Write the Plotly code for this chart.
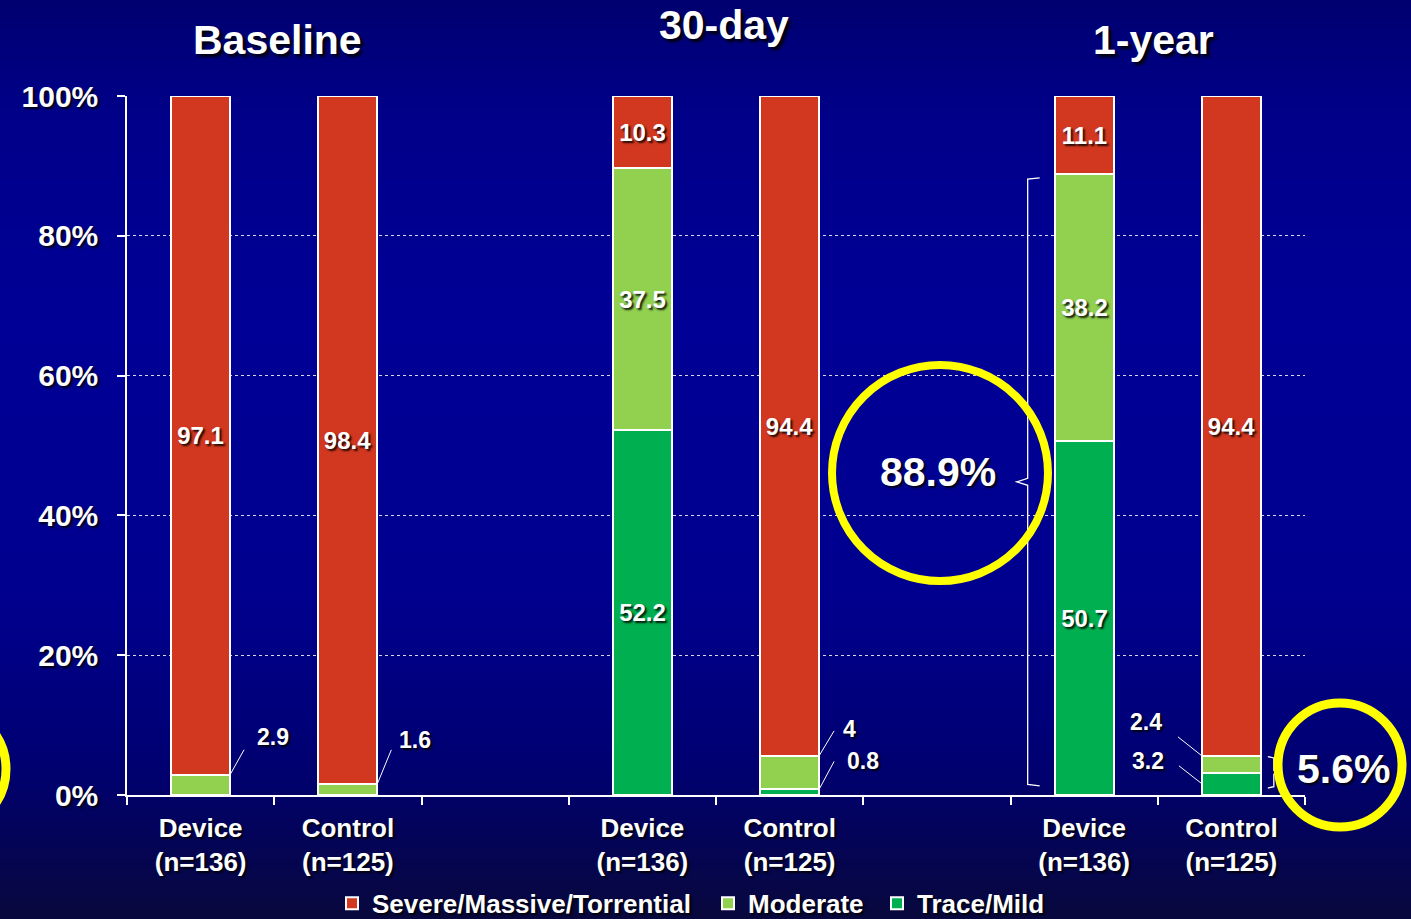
import plotly.graph_objects as go

# ---------------- data ----------------
bar_x = [1, 2, 4, 5, 7, 8]
bar_labels = ["Device<br>(n=136)", "Control<br>(n=125)",
              "Device<br>(n=136)", "Control<br>(n=125)",
              "Device<br>(n=136)", "Control<br>(n=125)"]
period_names = ["Baseline", "30-day", "1-year"]
series_names = ["Trace/Mild", "Moderate", "Severe/Massive/Torrential"]
trace_mild = [0.0, 0.0, 52.2, 0.8, 50.7, 3.2]
moderate = [2.9, 1.6, 37.5, 4.8, 38.2, 2.4]
severe = [97.1, 98.4, 10.3, 94.4, 11.1, 94.4]
trace_mild_lbl = ["", "", "52.2", "", "50.7", ""]
moderate_lbl = ["", "", "37.5", "", "38.2", ""]
severe_lbl = ["97.1", "98.4", "10.3", "94.4", "11.1", "94.4"]
# small segments labelled outside the bar: (bar index, series, label)
small_labels = [(0, "moderate", "2.9"), (1, "moderate", "1.6"),
                (3, "moderate", "4"), (3, "trace", "0.8"),
                (5, "moderate", "2.4"), (5, "trace", "3.2")]
y_ticks = [0, 20, 40, 60, 80, 100]
y_tick_text = ["0%", "20%", "40%", "60%", "80%", "100%"]

# ---------------- style ----------------
W, H = 1411, 919
ML, MR, MT, MB = 127, 106, 96, 124
PW, PH = W - ML - MR, H - MT - MB
BW = 0.4
RED, LGREEN, DGREEN = "#D2381F", "#92D050", "#00AF4F"
FONT = "Liberation Sans, Arial, sans-serif"
SHADOW = "2px 2px 2px rgba(0,0,0,0.85)"


def pfx(px):
    return (px - ML) / PW


def pfy(py):
    return (H - MB - py) / PH


def wfont(size):
    return dict(family=FONT, size=size, color="white", weight="bold", shadow=SHADOW)


fig = go.Figure()
legend_ids = ["legend3", "legend2", "legend"]
legend_left_px = {"legend": 332, "legend2": 708, "legend3": 877}
for name, vals, lbl, col, lg in [(series_names[0], trace_mild, trace_mild_lbl, DGREEN, legend_ids[0]),
                                 (series_names[1], moderate, moderate_lbl, LGREEN, legend_ids[1]),
                                 (series_names[2], severe, severe_lbl, RED, legend_ids[2])]:
    fig.add_trace(go.Bar(
        x=bar_x, y=vals, name=name, width=BW, text=lbl, legend=lg, showlegend=True,
        textposition="inside", insidetextanchor="middle", constraintext="none",
        textangle=0, textfont=wfont(24),
        marker=dict(color=col, line=dict(color="white", width=2)),
        hoverinfo="skip"))

shapes = []
# background gradient
stops = [(0, (0, 0, 112)), (120, (0, 0, 138)), (330, (0, 0, 150)), (600, (0, 0, 142)),
         (770, (0, 0, 112)), (919, (8, 8, 60))]
n = 92
for k in range(n):
    y0p = k * H / n
    y1p = (k + 1) * H / n
    ym = (y0p + y1p) / 2
    for j in range(len(stops) - 1):
        if stops[j][0] <= ym <= stops[j + 1][0]:
            t = (ym - stops[j][0]) / (stops[j + 1][0] - stops[j][0])
            c = [round(a + (b - a) * t) for a, b in zip(stops[j][1], stops[j + 1][1])]
            break
    shapes.append(dict(type="rect", xref="paper", yref="paper", layer="below",
                       x0=pfx(-2), x1=pfx(W + 2), y0=pfy(y1p + 0.5), y1=pfy(y0p - 0.5),
                       fillcolor=f"rgb({c[0]},{c[1]},{c[2]})", line=dict(width=0)))

annotations = []
# small segment labels with leader lines
geom = {  # side, anchor mode, line end (dx,dy), text (dx,dy)  in pixels
    "2.9": (1, "top", (14, 25), (43, 38)),
    "1.6": (1, "top", (14, 34), (38, 44)),
    "4": (1, "top", (15, 25), (30, 27)),
    "0.8": (1, "top", (15, 28), (44, 28)),
    "2.4": (-1, "top", (-24, 19), (-56, 34)),
    "3.2": (-1, "mid", (-23, 18), (-54, 23)),
}
for i, ser, lab in small_labels:
    side, mode, (lx, ly), (tx, ty) = geom[lab]
    base = trace_mild[i] if ser == "moderate" else 0.0
    seg = moderate[i] if ser == "moderate" else trace_mild[i]
    ay = base + seg if mode == "top" else base + seg / 2
    ax = bar_x[i] + side * BW / 2
    shapes.append(dict(type="line", xref="x", yref="y", xsizemode="pixel", ysizemode="pixel",
                       xanchor=ax, yanchor=ay, x0=0, y0=0, x1=lx, y1=ly,
                       line=dict(color="white", width=1)))
    annotations.append(dict(x=ax, y=ay, xref="x", yref="y", xshift=tx, yshift=ty,
                            text=lab, showarrow=False, font=wfont(23),
                            xanchor="center", yanchor="middle"))

# brace for 1-year device (trace + moderate)
tot_dev = trace_mild[4] + moderate[4]
top, bot = tot_dev - 0.6, 1.3
mid = (top + bot) / 2
shapes.append(dict(type="path", xref="x", yref="y", xsizemode="pixel",
                   xanchor=bar_x[4] - BW / 2,
                   path=f"M -15,{top} L -27,{top - 0.2} L -27,{mid + 0.5} L -38,{mid} "
                        f"L -27,{mid - 0.5} L -27,{bot + 0.2} L -15,{bot}",
                   line=dict(color="white", width=1.3)))
# brace for 1-year control
tot_ctl = trace_mild[5] + moderate[5]
top2, bot2 = tot_ctl - 0.1, 1.0
mid2 = (top2 + bot2) / 2
shapes.append(dict(type="path", xref="x", yref="y", xsizemode="pixel",
                   xanchor=bar_x[5] + BW / 2,
                   path=f"M 7,{top2} L 13,{top2 - 0.2} L 13,{mid2 + 0.3} L 22,{mid2} "
                        f"L 13,{mid2 - 0.3} L 13,{bot2 + 0.2} L 7,{bot2}",
                   line=dict(color="white", width=1.3)))

# yellow highlight circles
for cx, cy, r, w in [(940, 473, 108, 8), (1340, 765, 62, 9), (-56, 769, 62, 9)]:
    shapes.append(dict(type="circle", xref="paper", yref="paper", xsizemode="pixel",
                       ysizemode="pixel", xanchor=pfx(cx), yanchor=pfy(cy),
                       x0=-r, x1=r, y0=-r, y1=r, line=dict(color="#FFFF00", width=w)))

annotations.append(dict(x=pfx(938), y=pfy(472), xref="paper", yref="paper",
                        text=f"{tot_dev:.1f}%", showarrow=False, font=wfont(41),
                        xanchor="center", yanchor="middle"))
annotations.append(dict(x=pfx(1343), y=pfy(769), xref="paper", yref="paper",
                        text=f"{tot_ctl:.1f}%", showarrow=False, font=wfont(41),
                        xanchor="center", yanchor="middle"))

# period titles
for name, (tx, ty) in zip(period_names, [(277, 40), (724, 25), (1153, 40)]):
    f = wfont(41)
    f["shadow"] = "3px 3px 3px rgba(0,0,0,0.9)"
    annotations.append(dict(x=pfx(tx), y=pfy(ty), xref="paper", yref="paper",
                            text=name, showarrow=False, font=f,
                            xanchor="center", yanchor="middle"))

legend_layouts = {}
for lg in legend_ids:
    legend_layouts[lg] = dict(orientation="h", xref="container", yref="container",
                              x=legend_left_px[lg] / W, y=0.017, xanchor="left",
                              yanchor="middle", font=wfont(26),
                              bgcolor="rgba(0,0,0,0)", visible=True)

fig.update_layout(
    width=W, height=H, margin=dict(l=ML, r=MR, t=MT, b=MB, autoexpand=False),
    paper_bgcolor="#000080", plot_bgcolor="rgba(0,0,0,0)",
    barmode="stack", bargap=0, showlegend=True,
    font=dict(family=FONT, color="white"),
    shapes=shapes, annotations=annotations,
    xaxis=dict(range=[0.5, 8.5], tickmode="array", tickvals=bar_x, ticktext=bar_labels,
               ticks="", tickfont=wfont(26), showgrid=False, zeroline=False,
               showline=True, linecolor="white", linewidth=1.5,
               ticklabelstandoff=9,
               minor=dict(tickmode="array", tickvals=[k + 0.5 for k in range(9)],
                          ticks="outside", ticklen=8, tickcolor="white", tickwidth=1.5,
                          showgrid=False)),
    yaxis=dict(range=[0, 100], tickmode="array", tickvals=y_ticks, ticktext=y_tick_text,
               ticks="outside", ticklen=8, tickcolor="white", tickwidth=1.5,
               tickfont=wfont(30), showgrid=True, gridcolor="rgba(255,255,255,0.85)",
               griddash="dot", gridwidth=1, zeroline=False, showline=True,
               linecolor="white", linewidth=1.5, ticklabelstandoff=13),
    hovermode=False,
    **legend_layouts,
)

fig.write_html("out.html", config={"displayModeBar": False},
               post_script="document.body.style.margin='0px';"
                           "document.body.style.overflow='hidden';"
                           "document.documentElement.style.overflow='hidden';")
